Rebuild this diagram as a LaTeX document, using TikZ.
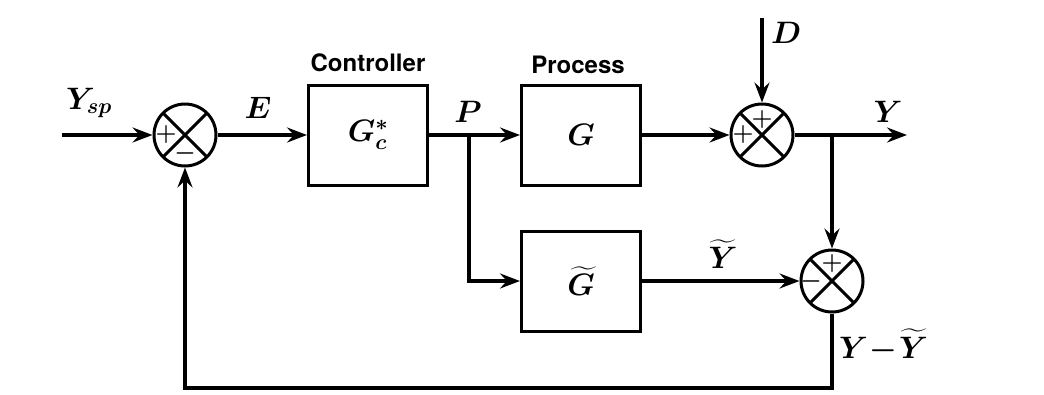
\RequirePackage{fix-cm}
\documentclass[tikz,border=0pt]{standalone}
\usepackage{fontspec}
\setsansfont{TeX Gyre Heros}
\usepackage{amsmath}
\usepackage{bm}
\usetikzlibrary{arrows.meta}
\begin{document}
\begin{tikzpicture}[x=1pt,y=-1pt,
 sig/.style={line width=3.8pt},
 arr/.style={sig,-{Stealth[length=20pt,width=15pt,inset=7pt]}},
 blk/.style={draw,line width=3pt,minimum width=119pt,minimum height=100pt,inner sep=0pt},
 sumj/.style={circle,draw,line width=3pt,minimum size=62pt,inner sep=0pt,
   path picture={\draw[line width=3pt] (path picture bounding box.north west)--(path picture bounding box.south east) (path picture bounding box.north east)--(path picture bounding box.south west);}},
 mlab/.style={font=\fontsize{31}{38}\selectfont,inner sep=0pt},
 hdr/.style={font=\sffamily\bfseries\fontsize{24}{28}\selectfont,inner sep=0pt},
 sgn/.style={font=\bfseries\fontsize{24}{26}\selectfont,inner sep=0pt}]
\fill[white] (0,0) rectangle (1044,394);
% nodes
\node[sumj] (s1) at (185,135) {};
\node[blk] (c) at (368,135) {};
\node[blk] (g) at (581,135) {};
\node[blk] (gt) at (581,281) {};
\node[sumj] (s2) at (762,135) {};
\node[sumj] (s3) at (832,281) {};
% box contents
\node[mlab] (gcl) at (c.center) {$\boldsymbol{G_c^*}$};
\node[mlab] (gl) at (g.center) {$\boldsymbol{G}$};
\node[mlab] (gtl) at (gt.center) {$\boldsymbol{\widetilde{G}}$};
\node[hdr] (hc) at (368,63) {Controller};
\node[hdr] (hp) at (578,65) {Process};
% signs
\node[sgn] (s1a) at ([xshift=-19pt]s1.center) {+};
\node[sgn] (s1b) at ([yshift=-18pt]s1.center) {$\boldsymbol{-}$};
\node[sgn] (s2a) at ([yshift=15pt]s2.center) {+};
\node[sgn] (s2b) at ([xshift=-19pt]s2.center) {+};
\node[sgn] (s3a) at ([yshift=17pt]s3.center) {+};
\node[sgn] (s3b) at ([xshift=-21pt]s3.center) {$\boldsymbol{-}$};
% coordinates
\coordinate (in) at (62,135);
\coordinate (pb) at (469,135);
\coordinate (din) at (762,18);
\coordinate (yout) at (907,135);
\coordinate (yb) at (832,135);
\coordinate (fb) at (832,388);
% connectors
\draw[arr] (in) -- (s1.west);
\draw[arr] (s1.east) -- (c.west);
\draw[arr] (c.east) -- (g.west);
\draw[arr] (pb) |- (gt.west);
\draw[arr] (g.east) -- (s2.west);
\draw[arr] (din) -- (s2.north);
\draw[arr] (s2.east) -- (yout);
\draw[arr] (yb) -- (s3.north);
\draw[arr] (gt.east) -- (s3.west);
\draw[arr] (s3.south) -- (fb) -| (s1.south);
% labels
\node[mlab] (lysp) at (89,103) {$\boldsymbol{Y_{sp}}$};
\node[mlab] (le) at (258,108) {$\boldsymbol{E}$};
\node[mlab] (lp) at (468,112) {$\boldsymbol{P}$};
\node[mlab,anchor=west] (ld) at (771,33) {$\boldsymbol{D}$};
\node[mlab] (ly) at (888,112) {$\boldsymbol{Y}$};
\node[mlab] (lyt) at (723,254) {$\boldsymbol{\widetilde{Y}}$};
\node[mlab,anchor=west] (lyd) at (839,346) {$\boldsymbol{Y\!-\!\widetilde{Y}}$};
\end{tikzpicture}
\end{document}
